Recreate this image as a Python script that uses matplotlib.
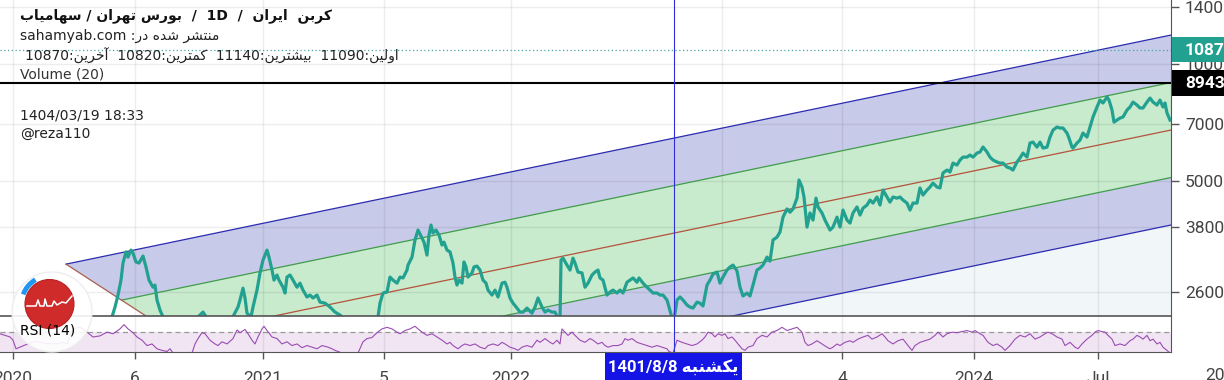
import numpy as np
import matplotlib
matplotlib.use('Agg')
import matplotlib.pyplot as plt
from matplotlib.patches import Rectangle, Circle, Arc
from matplotlib.ticker import FixedLocator, NullLocator

plt.rcParams['font.family'] = ['Roboto', 'DejaVu Sans']

# ---- data (bar index, value) ----
price_points = [
    (100, 2073), (112, 2240), (115, 2375), (118, 2549), (121, 2785), (123, 3080), (126, 3290), (128, 3190),
    (131, 3325), (133, 3265), (136, 3100), (139, 3080), (143, 3210), (146, 3010), (149, 2785), (153, 2670),
    (155, 2704), (157, 2475), (160, 2333), (163, 2240), (170, 2135), (180, 2073), (192, 2170), (200, 2265),
    (203, 2305), (207, 2225), (218, 2100), (230, 2170), (238, 2375), (240, 2475), (243, 2655), (245, 2505),
    (247, 2290), (251, 2240), (253, 2375), (257, 2625), (260, 2905), (263, 3135), (267, 3325), (269, 3190),
    (272, 2955), (274, 2785), (277, 2869), (279, 2785), (283, 2670), (285, 2580), (287, 2835), (290, 2869),
    (293, 2785), (297, 2670), (300, 2735), (303, 2625), (307, 2520), (310, 2549), (313, 2505), (317, 2549),
    (320, 2445), (325, 2430), (330, 2375), (335, 2305), (340, 2265), (348, 2170), (360, 2135), (372, 2199),
    (378, 2240), (380, 2430), (383, 2580), (387, 2595), (390, 2835), (393, 2785), (397, 2735), (400, 2835),
    (403, 2820), (407, 2955), (408, 3043), (412, 3190), (415, 3528), (418, 3743), (422, 3570), (424, 3485),
    (427, 3229), (429, 3634), (431, 3855), (433, 3680), (436, 3743), (439, 3634), (442, 3425), (444, 3485),
    (447, 3325), (450, 3290), (453, 3080), (455, 2835), (457, 2704), (459, 2785), (462, 2735), (464, 3100),
    (466, 3010), (468, 2835), (472, 2905), (474, 3010), (477, 3025), (480, 2955), (483, 2785), (486, 2735),
    (488, 2625), (492, 2549), (495, 2625), (498, 2520), (502, 2735), (505, 2750), (507, 2670), (510, 2505),
    (513, 2430), (517, 2360), (520, 2305), (523, 2305), (527, 2360), (532, 2290), (535, 2375), (538, 2505),
    (542, 2375), (545, 2305), (548, 2333), (552, 2305), (555, 2305), (558, 2225), (560, 2199), (561, 3135),
    (563, 3170), (567, 3043), (570, 2955), (573, 3170), (575, 3080), (578, 2920), (582, 2905), (585, 2670),
    (588, 2735), (592, 2869), (595, 2920), (598, 2955), (600, 2820), (603, 2785), (607, 2549), (610, 2595),
    (613, 2625), (617, 2580), (620, 2625), (623, 2580), (627, 2750), (630, 2785), (633, 2820), (637, 2750),
    (639, 2820), (643, 2735), (647, 2670), (650, 2625), (653, 2580), (657, 2580), (660, 2549), (663, 2549),
    (667, 2475), (669, 2375), (672, 2225), (674, 2199), (677, 2475), (680, 2520), (683, 2475), (687, 2403),
    (690, 2375), (693, 2360), (697, 2445), (700, 2430), (703, 2390), (707, 2704), (710, 2785), (713, 2885),
    (717, 2920), (720, 2735), (723, 2835), (727, 2955), (730, 3010), (733, 3043), (737, 2940), (740, 2670),
    (743, 2535), (747, 2580), (750, 2535), (753, 2704), (757, 2955), (760, 2990), (763, 3043), (767, 3190),
    (770, 3115), (773, 3528), (777, 3590), (780, 3700), (783, 4040), (787, 4240), (790, 4160), (793, 4240),
    (797, 4520), (799, 5030), (802, 4825), (804, 4550), (807, 3810), (810, 4140), (813, 3970), (816, 4520),
    (818, 4290), (822, 4140), (825, 3970), (830, 3743), (833, 3810), (837, 4040), (840, 3810), (843, 4212),
    (847, 3970), (850, 3900), (853, 4140), (857, 4290), (860, 4090), (863, 4260), (867, 4339), (870, 4469),
    (873, 4390), (877, 4550), (880, 4339), (883, 4741), (887, 4550), (890, 4415), (893, 4550), (897, 4520),
    (900, 4550), (903, 4469), (907, 4390), (910, 4212), (913, 4390), (917, 4390), (920, 4800), (923, 4603),
    (927, 4741), (930, 4825), (933, 4940), (937, 4825), (940, 4800), (943, 5245), (947, 5336), (950, 5275),
    (953, 5560), (957, 5496), (960, 5660), (963, 5760), (967, 5760), (970, 5830), (973, 5760), (977, 5900),
    (980, 5935), (983, 6115), (987, 5935), (990, 5760), (993, 5660), (997, 5595), (1000, 5560), (1003, 5560),
    (1007, 5430), (1010, 5400), (1013, 5336), (1017, 5595), (1020, 5730), (1023, 5900), (1027, 5760), (1030, 6260),
    (1033, 6295), (1037, 6110), (1040, 6295), (1043, 6075), (1047, 6110), (1050, 6485), (1053, 6758), (1057, 6880),
    (1060, 6840), (1063, 6840), (1067, 6640), (1069, 6445), (1072, 6110), (1073, 6075), (1077, 6260), (1080, 6370),
    (1083, 6640), (1087, 6485), (1090, 6880), (1093, 7300), (1097, 7745), (1100, 8069), (1103, 7930), (1107, 8215),
    (1109, 8069), (1112, 7607), (1114, 7085), (1117, 7170), (1120, 7255), (1123, 7300), (1127, 7607), (1130, 7745),
    (1133, 7975), (1137, 7835), (1140, 7700), (1143, 7700), (1147, 7975), (1150, 8165), (1153, 7975), (1157, 7835),
    (1160, 8069), (1163, 7745), (1165, 7930), (1167, 7475), (1170, 7170),
]

rsi_points = [
    (0, 66), (5, 63), (10, 60), (13, 54), (16, 38), (25, 45), (35, 52), (45, 48), (57, 47), (63, 50), (67, 47),
    (73, 75), (80, 78), (87, 69), (93, 60), (100, 62), (107, 69), (113, 66), (120, 75), (124, 83), (128, 75),
    (133, 68), (137, 60), (142, 54), (147, 44), (152, 47), (157, 38), (162, 35), (167, 33), (170, 38), (173, 30),
    (192, 30), (195, 47), (198, 57), (202, 68), (205, 66), (210, 54), (215, 47), (218, 44), (222, 51), (227, 47),
    (233, 57), (237, 73), (240, 68), (245, 74), (248, 66), (252, 54), (255, 47), (258, 60), (262, 75), (264, 80),
    (267, 72), (272, 60), (277, 57), (282, 47), (287, 51), (292, 44), (297, 47), (302, 40), (307, 44), (312, 41),
    (317, 38), (322, 44), (328, 41), (332, 38), (335, 35), (338, 33), (342, 30), (358, 30), (363, 51), (367, 57),
    (372, 59), (377, 68), (382, 75), (387, 78), (392, 75), (397, 69), (400, 66), (405, 72), (410, 75), (415, 80),
    (418, 75), (422, 69), (427, 63), (432, 66), (437, 60), (442, 54), (447, 47), (450, 50), (453, 44), (458, 38),
    (462, 44), (465, 47), (470, 44), (475, 47), (480, 41), (485, 38), (488, 44), (493, 47), (498, 44), (502, 50),
    (505, 47), (510, 41), (515, 38), (518, 35), (522, 41), (527, 44), (532, 41), (537, 54), (540, 50), (545, 57),
    (550, 50), (553, 47), (557, 54), (560, 47), (562, 75), (565, 69), (568, 63), (572, 69), (575, 63), (580, 54),
    (585, 50), (590, 57), (593, 54), (598, 47), (602, 50), (605, 44), (608, 41), (613, 44), (618, 44), (622, 47),
    (625, 57), (628, 54), (632, 57), (637, 50), (642, 47), (647, 44), (652, 41), (657, 44), (662, 41), (667, 38),
    (669, 33), (673, 30), (677, 54), (682, 50), (687, 47), (692, 44), (697, 47), (702, 54), (705, 60), (708, 69),
    (712, 66), (715, 60), (718, 66), (722, 63), (725, 66), (728, 57), (732, 60), (735, 54), (738, 47), (742, 38),
    (745, 35), (748, 41), (753, 44), (757, 57), (762, 63), (767, 60), (772, 69), (777, 72), (782, 78), (787, 72),
    (792, 75), (797, 78), (802, 69), (805, 50), (808, 44), (812, 47), (817, 53), (822, 47), (827, 41), (830, 38),
    (833, 41), (837, 47), (840, 44), (845, 50), (850, 53), (853, 50), (858, 56), (863, 60), (868, 63), (872, 56),
    (877, 60), (882, 66), (885, 60), (888, 53), (893, 47), (898, 53), (903, 56), (908, 44), (912, 35), (915, 44),
    (920, 50), (925, 53), (930, 56), (935, 63), (938, 69), (943, 60), (947, 66), (952, 69), (957, 68), (962, 70),
    (967, 72), (972, 69), (975, 72), (980, 66), (983, 63), (988, 50), (993, 44), (997, 47), (1002, 41), (1005, 35),
    (1010, 44), (1015, 56), (1020, 63), (1025, 60), (1030, 66), (1035, 56), (1040, 60), (1045, 66), (1048, 69),
    (1052, 66), (1057, 60), (1062, 56), (1065, 44), (1070, 50), (1075, 41), (1078, 38), (1082, 47), (1087, 56),
    (1092, 63), (1095, 69), (1098, 72), (1102, 70), (1105, 69), (1108, 63), (1112, 56), (1115, 44), (1120, 47),
    (1125, 44), (1130, 53), (1133, 56), (1137, 63), (1140, 60), (1143, 56), (1147, 63), (1150, 53), (1153, 56),
    (1157, 47), (1160, 50), (1163, 41), (1167, 35), (1170, 30),
]

# pitchfork: handles B and C, upper prong price at right edge
fork_x = [66, 288]
fork_p = [3060, 1307]
fork_end_x = 1171
fork_end_p = 11850

last_price = 10870
cross_price = 8943
cross_bar = 674

price_ticks = [2600, 3800, 5000, 7000, 10000, 14000]
time_ticks = [13, 135, 263, 384, 511, 722, 842, 974, 1098]
time_labels = ['2020', '6', '2021', '5', '2022', '', '4', '2024', 'Jul']

# ---- persian text helper (shape + visual order) ----
DUAL = 'بتخسشلمنهیک'
FORMS = {
    'ا': '\uFE8D\uFE8E', 'آ': '\uFE81\uFE82', 'د': '\uFEA9\uFEAA', 'ر': '\uFEAD\uFEAE', 'و': '\uFEED\uFEEE',
    'ب': '\uFE8F\uFE90\uFE91\uFE92', 'ت': '\uFE95\uFE96\uFE97\uFE98', 'خ': '\uFEA5\uFEA6\uFEA7\uFEA8',
    'س': '\uFEB1\uFEB2\uFEB3\uFEB4', 'ش': '\uFEB5\uFEB6\uFEB7\uFEB8', 'ل': '\uFEDD\uFEDE\uFEDF\uFEE0',
    'م': '\uFEE1\uFEE2\uFEE3\uFEE4', 'ن': '\uFEE5\uFEE6\uFEE7\uFEE8', 'ه': '\uFEE9\uFEEA\uFEEB\uFEEC',
    'ی': '\uFBFC\uFBFD\uFBFE\uFBFF', 'ک': '\uFB8E\uFB8F\uFB90\uFB91',
}


def shape_word(w):
    out = ''
    for i, ch in enumerate(w):
        f = FORMS[ch]
        pj = i > 0 and w[i-1] in DUAL
        nj = ch in DUAL and i + 1 < len(w) and w[i+1] in FORMS
        if pj and nj:
            out += f[3]
        elif pj:
            out += f[1]
        elif nj:
            out += f[2]
        else:
            out += f[0]
    return out


def rtl(text):
    kinds = ['R' if c in FORMS else ('L' if c.isalnum() else 'N') for c in text]
    for i, c in enumerate(text):
        if c in './:' and 0 < i < len(text)-1 and kinds[i-1] == 'L' and kinds[i+1] == 'L':
            kinds[i] = 'L'
    runs = []
    for c, k in zip(text, kinds):
        if runs and runs[-1][0] == k:
            runs[-1][1] += c
        else:
            runs.append([k, c])
    parts = []
    for k, s in reversed(runs):
        if k == 'R':
            parts.append(shape_word(s)[::-1])
        elif k == 'L':
            parts.append(s)
        else:
            parts.append(s[::-1])
    return ''.join(parts)


# ---- figure ----
W, H = 1224, 380
pane_r = 1171
p_bot = 315.5
r_bot = 352
fig = plt.figure(figsize=(W/100, H/100), dpi=100)
ax = fig.add_axes([0, 1 - p_bot/H, pane_r/W, p_bot/H])
rs = fig.add_axes([0, 1 - r_bot/H, pane_r/W, (r_bot - p_bot)/H])

ax.set_yscale('log')
ax.set_xlim(0, pane_r)
ax.set_ylim(2259, 14577)
rs.set_xlim(0, pane_r)
rs.set_ylim(32, 100)

for a in (ax, rs):
    a.set_xticks(time_ticks)
    a.grid(True, axis='x', color='black', alpha=0.07, lw=1)
    a.set_axisbelow('line')
    for s in ('left', 'top', 'bottom'):
        a.spines[s].set_visible(False)
    a.spines['right'].set_color('#555555')

ax.yaxis.tick_right()
ax.yaxis.set_major_locator(FixedLocator(price_ticks))
ax.yaxis.set_minor_locator(NullLocator())
ax.set_yticklabels([str(t) for t in price_ticks])
ax.grid(True, axis='y', color='black', alpha=0.07, lw=1)
ax.tick_params(axis='y', length=6, width=1, color='#555555', pad=4, labelsize=12.5, labelcolor='#444444')
ax.tick_params(axis='x', length=0, labelbottom=False)

rs.set_yticks([])
rs.spines['top'].set_visible(True)
rs.spines['top'].set_color('#555555')
rs.spines['top'].set_linewidth(1.2)
rs.spines['bottom'].set_visible(True)
rs.spines['bottom'].set_color('#555555')
rs.set_xticklabels(time_labels)
rs.tick_params(axis='x', length=5, width=1, color='#555555', pad=9, labelsize=12.5, labelcolor='#444444')

# pitchfork
lnB, lnC = np.log(fork_p[0]), np.log(fork_p[1])
slope = (np.log(fork_end_p) - lnB) / (fork_end_x - fork_x[0])


def prong(level):
    t = (1 - level) / 2
    sx = fork_x[0] + t * (fork_x[1] - fork_x[0])
    sl = lnB + t * (lnC - lnB)
    el = sl + slope * (fork_end_x - sx)
    return [sx, fork_end_x], [np.exp(sl), np.exp(el)]


lv = {L: prong(L) for L in (1, 0.5, 0, -0.5, -1)}


def band(a, b, color):
    xa, pa = lv[a]
    xb, pb = lv[b]
    ax.fill([xa[0], xa[1], xb[1], xb[0]], [pa[0], pa[1], pb[1], pb[0]], color=color, lw=0, zorder=1)


xl, pl = lv[-1]
ax.fill([xl[0], xl[1], xl[1], xl[0]], [pl[0], pl[1], 100, 100], color='#f1f7f8', lw=0, zorder=1)
band(1, 0.5, '#c8cae9')
band(-0.5, -1, '#c8cae9')
band(0.5, -0.5, '#c8eacd')
for L, c in ((1, '#2b2bb0'), (-1, '#2b2bb0'), (0.5, '#3f9c4a'), (-0.5, '#3f9c4a'), (0, '#b4533a')):
    ax.plot(*lv[L], color=c, lw=0.9, zorder=2)
ax.plot(fork_x, fork_p, color='#a8604f', lw=0.9, zorder=2)

px, pv = np.array(price_points).T
ax.plot(px, pv, color='#22a191', lw=2.3, zorder=3, solid_joinstyle='round')

ax.axhline(last_price, color='#4aa5a5', lw=0.9, ls=(0, (1, 2)), zorder=4)
ax.axhline(cross_price, color='black', lw=1.5, zorder=4)
ax.axvline(cross_bar, color='#2f2fd8', lw=0.8, zorder=4)

# RSI pane
rs.axhspan(30, 70, color='#f1e5f3', lw=0, zorder=0.3)
rs.axhline(70, color='#999999', lw=0.9, ls=(0, (4, 3)), zorder=1)
rx, rv = np.array(rsi_points).T
rs.plot(rx, rv, color='#9a4cb3', lw=0.8, zorder=2)
rs.axvline(cross_bar, color='#2f2fd8', lw=0.8, zorder=3)

# ---- overlay in pixel units ----
ov = fig.add_axes([0, 0, 1, 1])
ov.set_xlim(0, W)
ov.set_ylim(H, 0)
ov.axis('off')
ov.set_zorder(5)


def py(p):
    return H - ax.transData.transform((0, p))[1]


ov.add_patch(Rectangle((pane_r + 1, py(last_price) - 12.5), 60, 25, fc='#22a191', ec='none'))
ov.text(1185, py(last_price) + 0.5, str(last_price), color='white', fontsize=12.5, fontweight='bold',
        ha='left', va='center')
ov.add_patch(Rectangle((pane_r + 1, py(cross_price) - 13), 60, 26, fc='black', ec='none'))
ov.text(1185, py(cross_price) + 0.5, str(cross_price), color='white', fontsize=12.5, fontweight='bold',
        ha='left', va='center')

ov.add_patch(Rectangle((cross_bar - 69, r_bot + 1), 137, 30, fc='#1414e6', ec='none'))
ov.text(cross_bar - 1, 367.5, rtl('یکشنبه 1401/8/8'), color='white', fontsize=12, fontweight='bold',
        ha='center', va='center')
ov.text(1205, 368, '2025', color='#444444', fontsize=12.5, ha='left', va='top')

# logo
ov.add_patch(Circle((52, 312), 40, fc='white', ec='#ececec', lw=1.0, alpha=0.9))
ov.add_patch(Arc((49.5, 304), 56, 56, theta1=200, theta2=240, color='#2196f3', lw=3.5))
ov.add_patch(Circle((49.5, 304), 24.5, fc='#cf2b2b', ec='#b82020', lw=0.8))
ov.plot([27, 36, 38, 40, 44, 45, 47, 52, 54, 57, 62, 66, 72],
        [306, 306, 300, 306, 306, 299, 306, 306, 301, 305, 302, 303, 296], color='white', lw=1.1)
ov.text(20, 331, 'RSI (14)', color='black', fontsize=10, family='DejaVu Sans', va='center', ha='left')

# header texts
ov.text(20, 16, rtl('کربن  ایران  /  1D  /  بورس تهران / سهامیاب'), color='#111111', fontsize=10,
        fontweight='bold', family='DejaVu Sans', ha='left', va='center')
ov.text(20, 36, rtl('منتشر شده در: sahamyab.com'), color='#222222', fontsize=10,
        family='DejaVu Sans', ha='left', va='center')
ov.text(25, 56, rtl('اولین:11090  بیشترین:11140  کمترین:10820  آخرین:10870'), color='#222222',
        fontsize=10, family='DejaVu Sans', ha='left', va='center')
ov.text(20, 74, 'Volume (20)', color='#333333', fontsize=10, family='DejaVu Sans', ha='left', va='center')
ov.text(20, 115.5, '1404/03/19 18:33', color='#222222', fontsize=10, family='DejaVu Sans',
        ha='left', va='center')
ov.text(20, 134, '@reza110', color='#222222', fontsize=10, family='DejaVu Sans', ha='left', va='center')

fig.savefig('out.png', dpi=100)
